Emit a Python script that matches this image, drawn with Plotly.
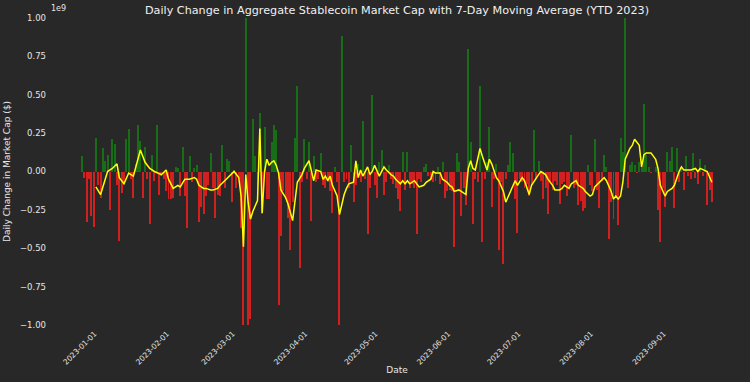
import pandas as pd
import plotly.graph_objects as go

# ---------------- data (values in billions of USD) ----------------
start_date = "2023-01-02"  # first daily observation
daily_change_bn = [
    0.10, -0.04, -0.33, -0.05, -0.29, -0.36, 0.22, -0.09, -0.17, 0.15,
    0.07, 0.11, -0.25, 0.21, 0.18, -0.09, -0.45, -0.14, -0.07, 0.21,
    0.28, -0.05, -0.17, 0.05, 0.30, 0.20, -0.17, 0.16, -0.05, -0.34,
    0.11, -0.06, 0.30, -0.15, -0.03, -0.05, -0.13, -0.18, -0.18, -0.17,
    0.03, 0.02, -0.16, 0.16, -0.16, -0.37, 0.10, -0.07, 0.02, 0.04,
    -0.33, -0.23, -0.28, -0.16, -0.09, 0.12, -0.11, -0.30, -0.15, -0.16,
    0.17, -0.11, 0.08, 0.07, -0.20, 0.01, -0.11, -0.04, -0.37, -1.00,
    1.00, -1.00, -0.96, 0.34, 0.10, -0.20, 0.38, -0.28, 0.29, -0.18,
    -0.18, 0.19, 0.30, 0.27, -0.87, -0.42, -0.13, -0.18, -0.30, -0.51,
    -0.20, 0.22, 0.56, -0.63, -0.07, 0.21, -0.05, 0.19, -0.32, 0.10,
    -0.07, -0.05, 0.12, -0.09, -0.11, -0.07, -0.13, -0.27, 0.03, -0.07,
    -1.00, 0.88, -0.07, -0.05, -0.11, 0.17, -0.20, -0.09, 0.05, -0.07,
    0.33, -0.05, -0.41, -0.11, 0.50, -0.09, -0.17, 0.06, 0.14, -0.15,
    -0.07, 0.04, -0.05, -0.08, -0.11, -0.18, -0.26, 0.13, -0.12, 0.13,
    -0.11, -0.08, -0.11, -0.41, -0.05, -0.07, 0.03, 0.05, -0.03, -0.05,
    -0.07, -0.06, 0.03, -0.08, 0.06, -0.17, -0.13, -0.12, -0.13, -0.49,
    0.12, 0.06, -0.29, -0.11, -0.22, 0.80, 0.19, -0.34, -0.05, -0.07,
    0.56, -0.46, -0.05, 0.06, 0.29, -0.23, -0.05, 0.05, -0.51, -0.07,
    -0.60, -0.05, 0.04, 0.19, 0.12, -0.18, -0.40, -0.05, -0.07, -0.11,
    -0.08, -0.16, -0.09, 0.27, -0.05, 0.07, -0.06, -0.18, -0.11, -0.28,
    -0.07, -0.12, -0.06, -0.09, -0.21, -0.08, -0.07, -0.16, -0.11, 0.24,
    -0.11, -0.09, -0.22, -0.19, -0.26, -0.24, 0.04, -0.09, -0.13, 0.21,
    -0.12, -0.24, -0.06, 0.11, 0.03, -0.44, -0.20, -0.31, -0.16, -0.35,
    0.22, 0.13, 1.00, -0.11, 0.04, 0.06, 0.04, -0.01, 0.06, 0.03,
    0.44, 0.11, 0.03, -0.01, -0.005, 0.03, -0.25, -0.46, -0.11, -0.23,
    0.13, 0.07, 0.16, -0.24, 0.15, -0.07, 0.03, -0.12, 0.10, -0.03,
    -0.05, 0.12, -0.04, -0.08, 0.08, -0.03, 0.04, -0.22, -0.12, -0.20,
]

# 7-day moving average (day offset from 2023-01-01)
ma_day_offset = [
    7, 9, 12, 14, 16, 17, 19, 21, 23, 26, 28, 30, 32, 34, 35, 37, 38, 40, 42, 43,
    45, 47, 49, 50, 51, 53, 54, 56, 57, 59, 60, 62, 64, 66, 68, 69, 70, 71, 72, 73,
    74, 76, 77, 78, 79, 80, 81, 82, 83, 84, 85, 86, 88, 89, 91, 92, 93, 95, 96, 98,
    99, 100, 101, 103, 104, 105, 106, 107, 108, 110, 111, 113, 114, 115, 117, 118, 119, 120, 121, 123,
    124, 125, 126, 127, 128, 130, 131, 133, 134, 135, 137, 138, 139, 140, 141, 143, 144, 145, 147, 148,
    150, 151, 152, 154, 155, 157, 158, 159, 160, 162, 163, 165, 166, 167, 168, 169, 170, 171, 172, 174,
    175, 176, 178, 179, 181, 182, 184, 185, 186, 187, 189, 190, 191, 192, 193, 195, 196, 197, 199, 200,
    202, 203, 205, 206, 207, 209, 210, 212, 213, 215, 216, 218, 219, 220, 222, 223, 224, 225, 227, 228,
    229, 230, 231, 232, 233, 235, 236, 237, 238, 239, 240, 241, 242, 244, 245, 246, 247, 248, 250, 251,
    253, 254, 256, 257, 258, 260, 261, 263, 264, 265, 267, 268, 270,
]
ma_value_bn = [
    -0.10, -0.15, 0.00, 0.02, 0.05, -0.04, -0.08, -0.01, -0.03, 0.14, 0.06, 0.02, 0.00, -0.01, -0.02, 0.01, -0.05, -0.11, -0.09, -0.10,
    -0.05, -0.05, -0.04, -0.05, -0.09, -0.11, -0.11, -0.12, -0.12, -0.11, -0.09, -0.06, -0.03, 0.00, -0.04, -0.16, -0.49, -0.02, -0.20, -0.31,
    -0.26, -0.19, 0.28, -0.27, 0.00, 0.08, 0.04, 0.06, 0.07, 0.04, -0.01, -0.12, -0.17, -0.21, -0.32, -0.20, -0.07, -0.02, 0.02, 0.07,
    0.00, -0.06, 0.01, 0.00, -0.05, -0.03, -0.06, -0.03, -0.09, -0.16, -0.28, -0.15, -0.11, -0.08, -0.07, 0.07, -0.04, 0.01, -0.03, 0.03,
    -0.02, 0.00, 0.04, 0.00, -0.03, 0.03, 0.01, -0.02, -0.03, -0.05, -0.08, -0.06, -0.08, -0.06, -0.08, -0.06, -0.08, -0.10, -0.09, -0.07,
    -0.05, 0.00, -0.01, -0.01, -0.05, -0.07, -0.09, -0.10, -0.13, -0.12, -0.13, -0.15, 0.02, 0.07, 0.02, 0.01, 0.08, 0.15, 0.10, 0.01,
    0.08, 0.05, -0.04, -0.06, -0.13, -0.20, -0.13, -0.09, -0.06, -0.09, -0.04, -0.06, -0.11, -0.15, -0.09, -0.04, -0.02, 0.00, -0.02, -0.05,
    -0.09, -0.12, -0.12, -0.11, -0.09, -0.11, -0.08, -0.06, -0.09, -0.11, -0.13, -0.16, -0.15, -0.10, -0.07, -0.05, -0.04, -0.06, -0.13, -0.18,
    -0.16, -0.18, -0.16, -0.07, 0.08, 0.15, 0.17, 0.21, 0.19, 0.17, 0.03, 0.11, 0.12, 0.12, 0.10, 0.08, 0.02, -0.09, -0.16, -0.13,
    -0.11, -0.09, 0.00, 0.03, 0.01, 0.01, 0.01, 0.02, 0.00, 0.02, 0.01, 0.00, -0.07,
]

month_ticks = ["2023-01-01", "2023-02-01", "2023-03-01", "2023-04-01", "2023-05-01",
               "2023-06-01", "2023-07-01", "2023-08-01", "2023-09-01"]
y_ticks_bn = [-1.0, -0.75, -0.5, -0.25, 0.0, 0.25, 0.5, 0.75, 1.0]

# ---------------- styling ----------------
BG = "#282828"
TXT = "#e6e6e6"
GREEN = "#176e17"
RED = "#d02020"
FONT = "DejaVu Sans"

dates = pd.date_range(start_date, periods=len(daily_change_bn), freq="D")
values = [v * 1e9 for v in daily_change_bn]
bar_colors = [GREEN if v >= 0 else RED for v in values]

ma_dates = pd.Timestamp("2023-01-01") + pd.to_timedelta(ma_day_offset, unit="D")
ma_values = [v * 1e9 for v in ma_value_bn]

fig = go.Figure()
fig.add_trace(go.Bar(
    x=dates, y=values, marker=dict(color=bar_colors, line=dict(width=0)),
    width=0.85 * 86400000, name="Daily Change", cliponaxis=False,
))
fig.add_trace(go.Scatter(
    x=ma_dates, y=ma_values, mode="lines",
    line=dict(color="#ffff00", width=1.5), name="7-Day MA",
))

fig.update_layout(
    width=750, height=382,
    paper_bgcolor=BG, plot_bgcolor=BG,
    margin=dict(l=47, r=3, t=18, b=57),
    showlegend=False,
    bargap=0,
    font=dict(family=FONT, color=TXT, size=9),
    title=dict(
        text="Daily Change in Aggregate Stablecoin Market Cap with 7-Day Moving Average (YTD 2023)",
        x=0.5, xref="paper", xanchor="center", y=1 - 10 / 382, yanchor="middle",
        font=dict(family=FONT, size=11.2, color="#f0f0f0"),
    ),
)
fig.update_xaxes(
    type="date", automargin=False,
    range=["2022-12-18 03:00", "2023-10-13 00:00"],
    tickvals=month_ticks, ticktext=month_ticks,
    tickangle=-45, tickfont=dict(size=7.5, color=TXT),
    ticklabelshift=15, ticklabelstandoff=2,
    showgrid=False, zeroline=False, showline=False, ticks="",
    title=dict(text="Date", font=dict(size=9, color=TXT), standoff=1),
)
fig.update_yaxes(
    range=[-1e9, 1e9], automargin=False,
    tickvals=[v * 1e9 for v in y_ticks_bn],
    ticktext=[f"{v:.2f}".replace("-", "\u2212") for v in y_ticks_bn],
    tickfont=dict(size=8.5, color=TXT),
    showgrid=False, zeroline=False, showline=False, ticks="",
    title=dict(text="Daily Change in Market Cap ($)", font=dict(size=9, color=TXT), standoff=7),
)
fig.add_annotation(
    text="1e9", xref="paper", yref="paper", x=0.003, y=1, xanchor="left", yanchor="bottom",
    yshift=3, showarrow=False, font=dict(family=FONT, size=8, color=TXT),
)

fig.write_html(
    "out.html",
    config={"displayModeBar": False, "staticPlot": True},
    post_script="document.body.style.margin='0';document.body.style.background='%s';" % BG,
)
